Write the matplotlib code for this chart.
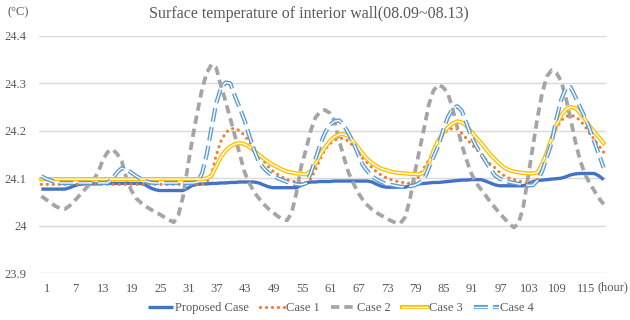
import matplotlib
matplotlib.use('Agg')
import matplotlib.pyplot as plt
import matplotlib.patheffects as pe
import matplotlib.transforms as mtransforms

plt.rcParams['font.family'] = ['Liberation Serif', 'DejaVu Serif']
plt.rcParams['lines.scale_dashes'] = False

# ── data (hourly 1..120) ──────────────────────────────────────────────────────
hours = list(range(1, 121))
tick_hours = list(range(1, 120, 6))
y_ticks = [23.9, 24.0, 24.1, 24.2, 24.3, 24.4]
y_tick_labels = ['23.9', '24', '24.1', '24.2', '24.3', '24.4']

proposed = [
    24.077, 24.077, 24.077, 24.077, 24.077, 24.077, 24.080, 24.084, 24.087, 24.088,
    24.088, 24.088, 24.088, 24.089, 24.089, 24.089, 24.089, 24.089, 24.089, 24.089,
    24.089, 24.089, 24.086, 24.080, 24.076, 24.074, 24.074, 24.074, 24.074, 24.074,
    24.074, 24.079, 24.085, 24.087, 24.088, 24.088, 24.089, 24.089, 24.090, 24.090,
    24.091, 24.091, 24.092, 24.092, 24.092, 24.092, 24.090, 24.086, 24.082, 24.080,
    24.080, 24.080, 24.080, 24.080, 24.080, 24.085, 24.090, 24.092, 24.092, 24.093,
    24.093, 24.093, 24.094, 24.094, 24.094, 24.094, 24.094, 24.094, 24.094, 24.094,
    24.092, 24.087, 24.083, 24.081, 24.081, 24.081, 24.081, 24.081, 24.084, 24.087,
    24.088, 24.089, 24.090, 24.091, 24.091, 24.092, 24.093, 24.094, 24.095, 24.096,
    24.096, 24.097, 24.097, 24.097, 24.094, 24.090, 24.086, 24.084, 24.084, 24.084,
    24.084, 24.084, 24.084, 24.088, 24.093, 24.095, 24.096, 24.097, 24.098, 24.099,
    24.100, 24.103, 24.107, 24.109, 24.110, 24.110, 24.110, 24.110, 24.105, 24.097,
]

case1 = [
    24.087, 24.087, 24.087, 24.087, 24.087, 24.087, 24.087, 24.087, 24.087, 24.087,
    24.087, 24.087, 24.087, 24.087, 24.087, 24.087, 24.087, 24.087, 24.087, 24.087,
    24.087, 24.087, 24.087, 24.087, 24.087, 24.087, 24.087, 24.087, 24.087, 24.087,
    24.087, 24.087, 24.087, 24.087, 24.087, 24.092, 24.108, 24.148, 24.178, 24.196,
    24.204, 24.205, 24.200, 24.190, 24.177, 24.164, 24.150, 24.137, 24.125, 24.115,
    24.108, 24.102, 24.097, 24.094, 24.092, 24.090, 24.090, 24.098, 24.118, 24.140,
    24.160, 24.172, 24.180, 24.184, 24.184, 24.178, 24.168, 24.155, 24.142, 24.132,
    24.122, 24.113, 24.106, 24.101, 24.097, 24.094, 24.092, 24.090, 24.089, 24.093,
    24.105, 24.122, 24.138, 24.158, 24.178, 24.192, 24.202, 24.205, 24.204, 24.195,
    24.183, 24.172, 24.162, 24.152, 24.140, 24.130, 24.122, 24.112, 24.105, 24.100,
    24.097, 24.094, 24.092, 24.090, 24.090, 24.098, 24.125, 24.155, 24.185, 24.205,
    24.222, 24.230, 24.233, 24.230, 24.222, 24.210, 24.195, 24.182, 24.168, 24.155,
]

case2 = [
    24.062, 24.055, 24.048, 24.041, 24.036, 24.035, 24.042, 24.052, 24.063, 24.074,
    24.085, 24.096, 24.112, 24.138, 24.155, 24.161, 24.152, 24.136, 24.100, 24.075,
    24.058, 24.049, 24.041, 24.035, 24.029, 24.024, 24.018, 24.012, 24.007, 24.022,
    24.062, 24.125, 24.185, 24.238, 24.288, 24.322, 24.340, 24.333, 24.295, 24.262,
    24.225, 24.188, 24.150, 24.113, 24.090, 24.071, 24.058, 24.046, 24.036, 24.028,
    24.020, 24.014, 24.011, 24.028, 24.070, 24.125, 24.160, 24.200, 24.228, 24.240,
    24.244, 24.238, 24.222, 24.180, 24.145, 24.112, 24.090, 24.070, 24.055, 24.043,
    24.034, 24.027, 24.021, 24.016, 24.010, 24.006, 24.005, 24.018, 24.055, 24.110,
    24.158, 24.205, 24.255, 24.285, 24.297, 24.292, 24.280, 24.248, 24.208, 24.170,
    24.138, 24.110, 24.090, 24.077, 24.064, 24.050, 24.038, 24.026, 24.015, 24.004,
    23.996, 24.005, 24.040, 24.102, 24.165, 24.228, 24.280, 24.315, 24.328, 24.322,
    24.305, 24.270, 24.225, 24.178, 24.138, 24.110, 24.090, 24.074, 24.058, 24.045,
]

case3 = [
    24.098, 24.098, 24.098, 24.098, 24.098, 24.098, 24.098, 24.098, 24.098, 24.098,
    24.098, 24.098, 24.098, 24.098, 24.098, 24.098, 24.098, 24.098, 24.098, 24.098,
    24.098, 24.098, 24.098, 24.098, 24.098, 24.098, 24.098, 24.098, 24.098, 24.098,
    24.098, 24.098, 24.098, 24.098, 24.098, 24.100, 24.105, 24.125, 24.145, 24.158,
    24.167, 24.172, 24.174, 24.172, 24.166, 24.158, 24.150, 24.142, 24.135, 24.128,
    24.123, 24.118, 24.114, 24.112, 24.110, 24.109, 24.108, 24.115, 24.130, 24.150,
    24.165, 24.178, 24.187, 24.192, 24.193, 24.188, 24.178, 24.165, 24.152, 24.140,
    24.132, 24.125, 24.120, 24.117, 24.114, 24.112, 24.111, 24.110, 24.109, 24.109,
    24.108, 24.112, 24.130, 24.158, 24.180, 24.195, 24.207, 24.215, 24.220, 24.218,
    24.210, 24.198, 24.186, 24.175, 24.163, 24.150, 24.140, 24.130, 24.122, 24.117,
    24.114, 24.112, 24.111, 24.110, 24.110, 24.112, 24.130, 24.155, 24.185, 24.212,
    24.232, 24.245, 24.250, 24.248, 24.238, 24.225, 24.210, 24.198, 24.186, 24.174,
]

case4 = [
    24.104, 24.099, 24.095, 24.092, 24.090, 24.090, 24.090, 24.090, 24.090, 24.090,
    24.090, 24.090, 24.090, 24.090, 24.090, 24.098, 24.112, 24.121, 24.119, 24.112,
    24.105, 24.099, 24.094, 24.091, 24.090, 24.090, 24.090, 24.090, 24.090, 24.090,
    24.090, 24.090, 24.090, 24.092, 24.110, 24.150, 24.205, 24.258, 24.290, 24.302,
    24.300, 24.272, 24.248, 24.222, 24.190, 24.160, 24.135, 24.122, 24.112, 24.105,
    24.100, 24.096, 24.092, 24.089, 24.087, 24.086, 24.089, 24.110, 24.140, 24.170,
    24.195, 24.212, 24.220, 24.222, 24.212, 24.195, 24.175, 24.152, 24.128, 24.115,
    24.104, 24.097, 24.092, 24.088, 24.086, 24.084, 24.082, 24.082, 24.083, 24.085,
    24.090, 24.098, 24.122, 24.145, 24.168, 24.200, 24.228, 24.246, 24.252, 24.242,
    24.215, 24.188, 24.168, 24.152, 24.136, 24.120, 24.106, 24.099, 24.095, 24.092,
    24.090, 24.088, 24.086, 24.085, 24.085, 24.095, 24.115, 24.145, 24.175, 24.225,
    24.265, 24.290, 24.292, 24.272, 24.250, 24.229, 24.205, 24.178, 24.150, 24.122,
]

TEXT = '#595959'
GRID = '#D9D9D9'

# ── figure ────────────────────────────────────────────────────────────────────
fig = plt.figure(figsize=(6.3, 3.2), dpi=100)
ax = fig.add_axes([39 / 630, 1 - 273 / 320, 567 / 630, 237 / 320])

ax.plot(hours, proposed, color='#4472C4', linewidth=2.4, label='Proposed Case',
        solid_capstyle='butt', zorder=3)
ax.plot(hours, case1, color='#ED7D31', linewidth=2.3, linestyle=(0, (0.01, 4.3)),
        dash_capstyle='round', label='Case 1', zorder=4)
ax.plot(hours, case2, color='#A5A5A5', linewidth=2.7, linestyle=(0, (6.0, 3.6)),
        dash_capstyle='butt', label='Case 2', zorder=5)
ax.plot(hours, case3, color='#FFC000', linewidth=3.0, label='Case 3', zorder=6,
        path_effects=[pe.Stroke(linewidth=3.0, foreground='#FFC000'),
                      pe.Stroke(linewidth=1.0, foreground='white')])
ax.plot(hours, case4, color='#5B9BD5', linewidth=3.0, linestyle=(0, (10.0, 3.8)),
        dash_capstyle='butt', label='Case 4', zorder=7,
        path_effects=[pe.Stroke(linewidth=3.0, foreground='#5B9BD5'),
                      pe.Stroke(linewidth=1.0, foreground='white')])

ax.set_xlim(0.5, 120.5)
ax.set_ylim(23.9, 24.4)
ax.set_yticks(y_ticks)
ax.set_yticklabels(y_tick_labels)
ax.set_xticks(tick_hours)
ax.set_xticklabels([str(h) for h in tick_hours])
ax.tick_params(axis='both', length=0, labelsize=9, labelcolor=TEXT)
ax.tick_params(axis='y', pad=9)
ax.tick_params(axis='x', pad=7)
offset = mtransforms.ScaledTranslation(4 / 72, 0, fig.dpi_scale_trans)
for lbl in ax.get_xticklabels():
    lbl.set_transform(lbl.get_transform() + offset)

ax.grid(axis='y', color=GRID, linewidth=1.0)
ax.set_axisbelow(True)
for s in ax.spines.values():
    s.set_visible(False)

fig.text(149 / 630, 1 - 14 / 320, 'Surface temperature of interior wall(08.09~08.13)',
         fontsize=11.5, color=TEXT, ha='left', va='center')
fig.text(7 / 630, 1 - 12 / 320, '(°C)', fontsize=9, color=TEXT, ha='left', va='center')
fig.text(597 / 630, 1 - 287 / 320, '(hour)', fontsize=9, color=TEXT, ha='left', va='center')

leg = ax.legend(loc='center', bbox_to_anchor=(341 / 630, 1 - 308 / 320),
                bbox_transform=fig.transFigure, ncol=5, frameon=False, fontsize=9,
                handlelength=2.0, handletextpad=0.1, columnspacing=0.9, borderpad=0.2)
for t in leg.get_texts():
    t.set_color(TEXT)

fig.savefig('out.png', dpi=100)
